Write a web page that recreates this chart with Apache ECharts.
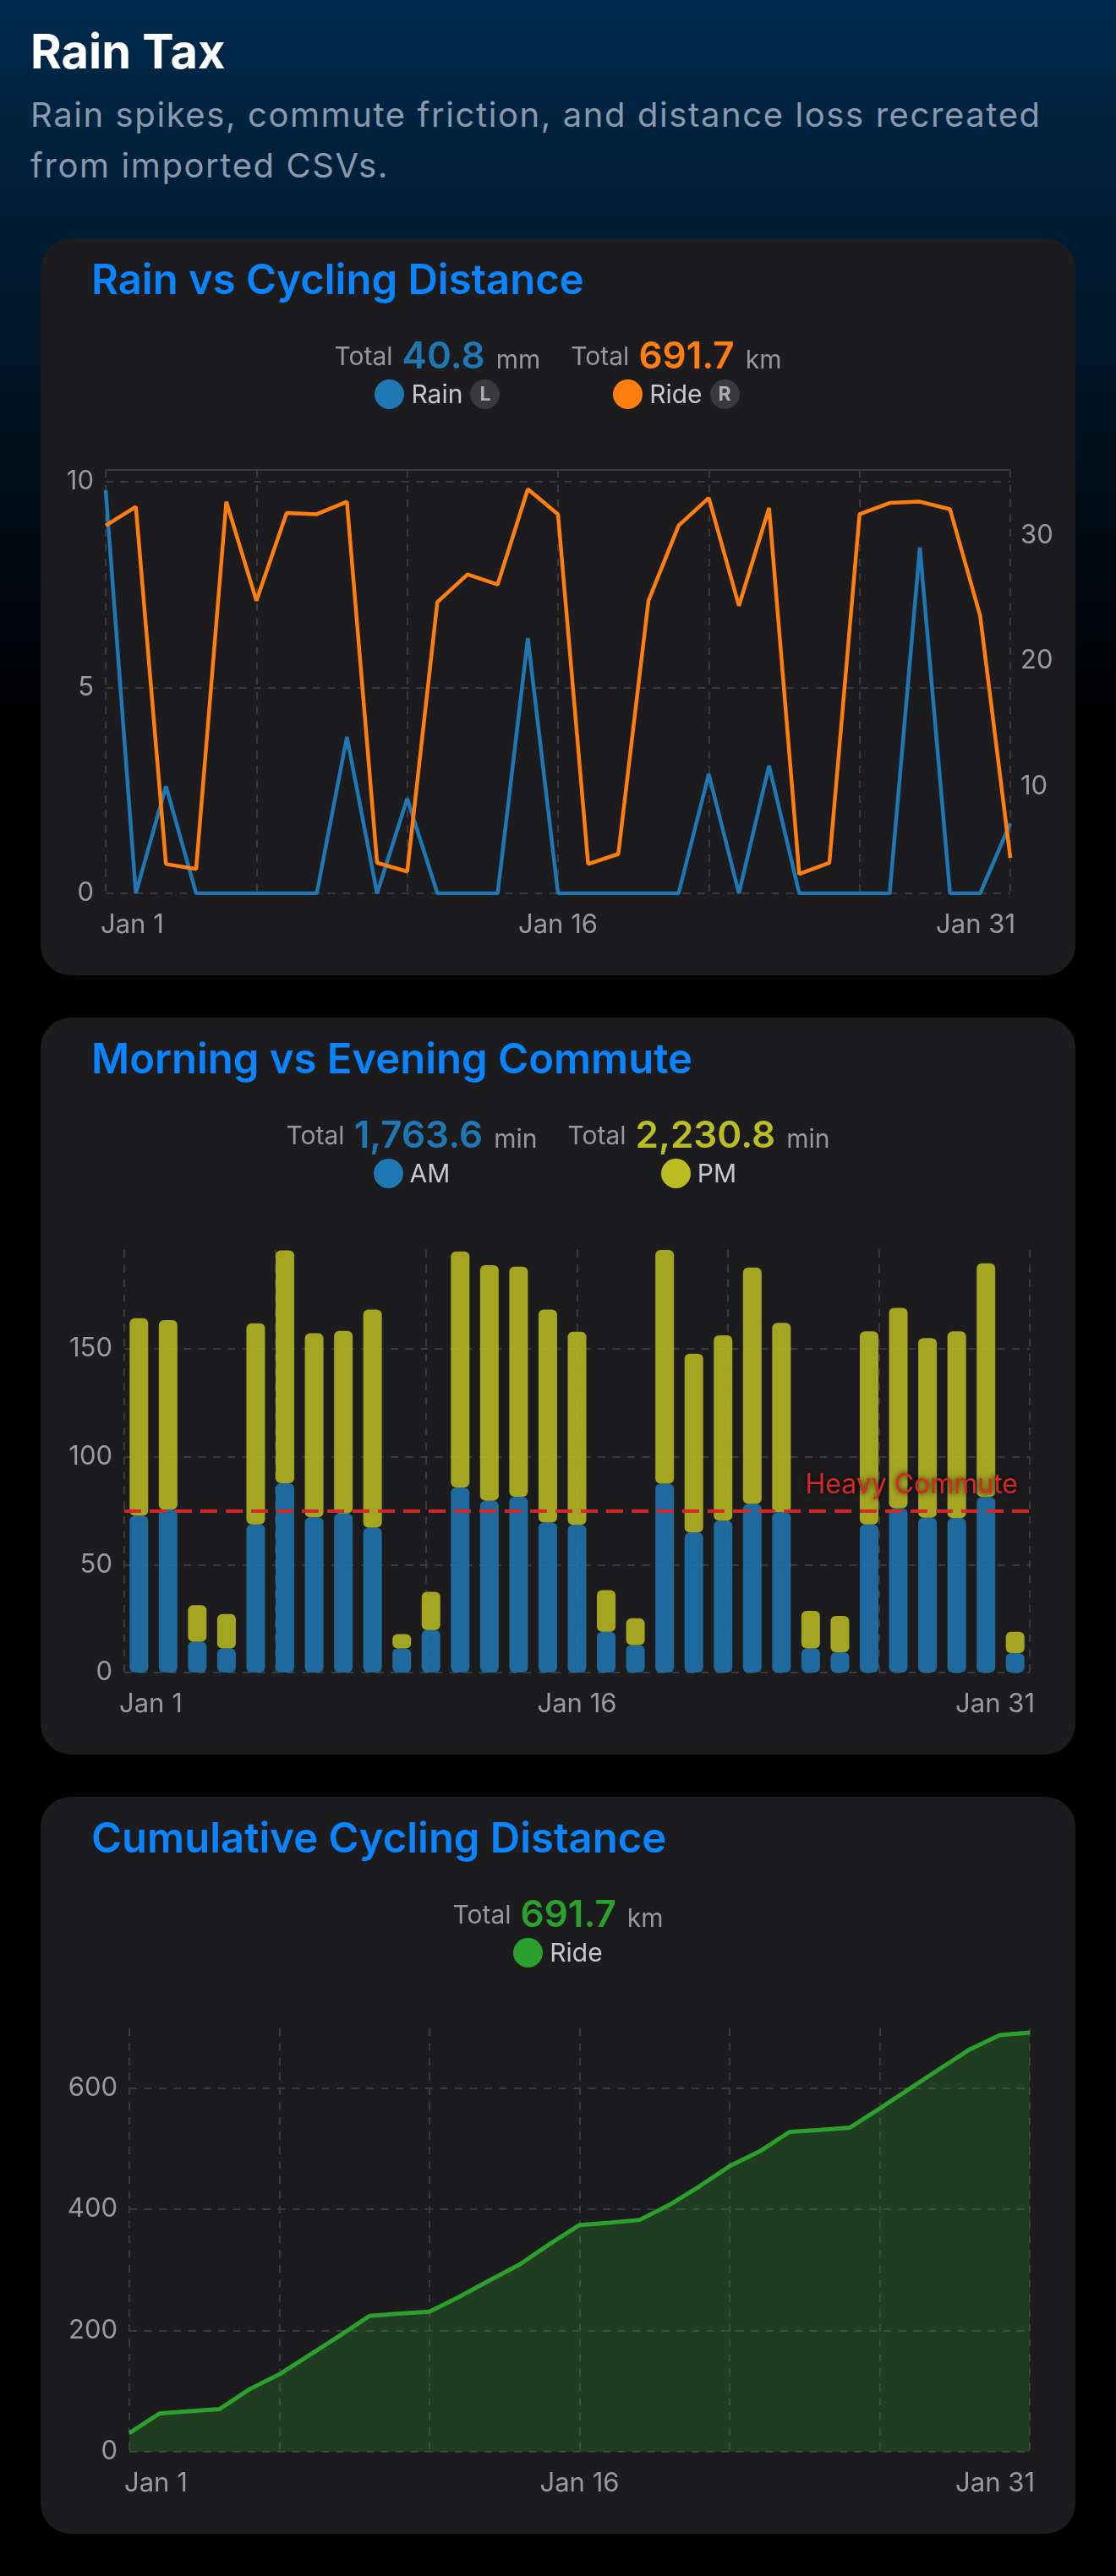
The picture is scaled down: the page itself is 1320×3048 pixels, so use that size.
<!DOCTYPE html>
<html>
<head>
<meta charset="utf-8">
<script src="https://cdn.jsdelivr.net/npm/echarts@6/dist/echarts.min.js"></script>
<style>
html,body{margin:0;padding:0;width:1320px;height:3048px;overflow:hidden;background:#000;}
body{background:linear-gradient(180deg,#002a4c 0px,#000 850px) no-repeat,#000;font-family:Inter,'Noto Sans',sans-serif;position:relative;}
.h1{position:absolute;left:36px;top:33px;margin:0;font-size:56px;line-height:56px;font-weight:700;color:#fff;white-space:nowrap;}
.sub{position:absolute;left:36px;top:106px;margin:0;font-size:40px;line-height:60px;letter-spacing:1.6px;color:#8a99ad;white-space:nowrap;}
.card{position:absolute;left:48px;width:1224px;height:872px;background:#1c1c1e;border-radius:36px;overflow:hidden;}
.chart{position:absolute;left:0;top:0;width:1224px;height:872px;}
.ctitle{position:absolute;left:60px;top:24px;font-size:49px;line-height:50px;font-weight:600;color:#0a84ff;white-space:nowrap;}
.legend{position:absolute;left:0;right:0;top:110px;display:flex;justify-content:center;gap:36px;pointer-events:none;}
.grp{display:flex;flex-direction:column;align-items:center;flex-shrink:0;}
.r1{font-size:44px;line-height:56px;height:56px;white-space:nowrap;}
.tot{font-size:30px;line-height:30px;color:#98989d;position:relative;top:-4px;margin-right:11px;}
.val{font-size:44px;line-height:44px;font-weight:600;}
.unit{font-size:30px;line-height:30px;color:#98989d;margin-left:13px;}
.r2{display:flex;align-items:center;height:36px;}
.dot{flex:0 0 35px;width:35px;height:35px;border-radius:50%;margin-right:8px;}
.nm{font-size:30px;line-height:36px;color:#c7c7cc;}
.badge{flex:0 0 35px;width:35px;height:35px;border-radius:50%;background:#3a3a3c;color:#aeaeb2;font-size:23px;font-weight:700;display:flex;align-items:center;justify-content:center;margin-left:9px;}
</style>
</head>
<body>
<div class="h1">Rain Tax</div>
<div class="sub">Rain spikes, commute friction, and distance loss recreated<br>from imported CSVs.</div>

<div class="card" style="top:282px">
  <div class="chart" id="c1"></div>
  <div class="ctitle">Rain vs Cycling Distance</div>
  <div class="legend">
    <div class="grp">
      <div class="r1"><span class="tot">Total</span><span class="val" id="t-rain" style="color:#1f77b4"></span><span class="unit">mm</span></div>
      <div class="r2"><span class="dot" style="background:#1f77b4"></span><span class="nm">Rain</span><span class="badge">L</span></div>
    </div>
    <div class="grp">
      <div class="r1"><span class="tot">Total</span><span class="val" id="t-ride" style="color:#ff7f0e"></span><span class="unit">km</span></div>
      <div class="r2"><span class="dot" style="background:#ff7f0e"></span><span class="nm">Ride</span><span class="badge">R</span></div>
    </div>
  </div>
</div>

<div class="card" style="top:1204px">
  <div class="chart" id="c2"></div>
  <div class="ctitle">Morning vs Evening Commute</div>
  <div class="legend">
    <div class="grp">
      <div class="r1"><span class="tot">Total</span><span class="val" id="t-am" style="color:#1f77b4"></span><span class="unit">min</span></div>
      <div class="r2"><span class="dot" style="background:#1f77b4"></span><span class="nm">AM</span></div>
    </div>
    <div class="grp">
      <div class="r1"><span class="tot">Total</span><span class="val" id="t-pm" style="color:#bcbd22"></span><span class="unit">min</span></div>
      <div class="r2"><span class="dot" style="background:#bcbd22"></span><span class="nm">PM</span></div>
    </div>
  </div>
</div>

<div class="card" style="top:2126px">
  <div class="chart" id="c3"></div>
  <div class="ctitle">Cumulative Cycling Distance</div>
  <div class="legend">
    <div class="grp">
      <div class="r1"><span class="tot">Total</span><span class="val" id="t-cum" style="color:#2ca02c"></span><span class="unit">km</span></div>
      <div class="r2"><span class="dot" style="background:#2ca02c"></span><span class="nm">Ride</span></div>
    </div>
  </div>
</div>

<script>
// ---------- data ----------
const days = ['Jan 1','Jan 2','Jan 3','Jan 4','Jan 5','Jan 6','Jan 7','Jan 8','Jan 9','Jan 10',
  'Jan 11','Jan 12','Jan 13','Jan 14','Jan 15','Jan 16','Jan 17','Jan 18','Jan 19','Jan 20',
  'Jan 21','Jan 22','Jan 23','Jan 24','Jan 25','Jan 26','Jan 27','Jan 28','Jan 29','Jan 30','Jan 31'];
const xTickLabels = ['Jan 1', 'Jan 16', 'Jan 31'];

const rainMm = [9.8, 0, 2.6, 0, 0, 0, 0, 0, 3.8, 0, 2.3, 0, 0, 0, 6.2, 0,
  0, 0, 0, 0, 2.9, 0, 3.1, 0, 0, 0, 0, 8.4, 0, 0, 1.7];
const rideKm = [30.8, 32.3, 3.8, 3.4, 32.7, 24.8, 31.8, 31.7, 32.7, 3.9, 3.2, 24.7, 26.9, 26.1, 33.7, 31.7,
  3.8, 4.6, 24.8, 30.8, 33.0, 24.4, 32.2, 3.0, 3.9, 31.7, 32.6, 32.7, 32.1, 23.6, 4.3];
const amMin = [72.6, 75.4, 14.3, 11.2, 68.6, 87.7, 71.9, 73.7, 67.1, 11.2, 19.7, 85.7, 79.6, 81.4, 69.5, 68.4,
  18.9, 12.7, 87.5, 64.9, 70.4, 78.1, 74.3, 11.2, 9.4, 68.6, 76.1, 71.7, 71.5, 81.3, 9.0];
const pmMin = [91.5, 87.8, 16.9, 15.9, 93.1, 107.8, 85.2, 84.5, 101.0, 6.6, 17.7, 109.3, 109.1, 106.6, 98.6, 89.4,
  19.3, 12.4, 108.2, 82.8, 85.8, 109.5, 87.6, 17.4, 16.8, 89.4, 92.8, 83.2, 86.5, 108.2, 9.9];
const cumulativeKm = [30.8, 63.1, 66.9, 70.3, 103.0, 127.8, 159.6, 191.3, 224.0, 227.9, 231.1, 255.8, 282.7, 308.8, 342.5, 374.2,
  378.0, 382.6, 407.4, 438.2, 471.2, 495.6, 527.8, 530.8, 534.7, 566.4, 599.0, 631.7, 663.8, 687.4, 691.7];
const heavyCommuteMin = 75;

// ---------- helpers ----------
const sum = a => a.reduce((s, v) => s + v, 0);
const fmt = v => v.toLocaleString('en-US', {minimumFractionDigits: 1, maximumFractionDigits: 1});
document.getElementById('t-rain').textContent = fmt(sum(rainMm));
document.getElementById('t-ride').textContent = fmt(sum(rideKm));
document.getElementById('t-am').textContent = fmt(sum(amMin));
document.getElementById('t-pm').textContent = fmt(sum(pmMin));
document.getElementById('t-cum').textContent = fmt(cumulativeKm[cumulativeKm.length - 1]);

const FONT = 'Inter';
const GRID = '#3a3a3c';
const LABEL = '#9a9a9f';
const DASH = [9, 8.5];
const axisText = {color: LABEL, fontSize: 31, fontFamily: FONT};
const xLabelExtra = {margin: 22, alignMinLabel: 'left', alignMaxLabel: 'right', padding: [0, -6, 0, -6]};
const splitDashed = {lineStyle: {color: GRID, width: 2, type: DASH}};

function catX(extra) {
  return Object.assign({
    type: 'category', data: days, boundaryGap: false,
    axisLine: {show: false}, axisTick: {show: false},
    axisLabel: Object.assign({interval: 14}, xLabelExtra, axisText),
    splitLine: Object.assign({show: true, interval: 4}, splitDashed)
  }, extra || {});
}

// ---------- chart 1 ----------
const rainMax = Math.max(...rainMm);
const rideMax = Math.max(...rideKm), rideMin = Math.min(...rideKm);
const ridePad = (rideMax - rideMin) * 0.05;
const c1 = echarts.init(document.getElementById('c1'), null, {renderer: 'canvas'});
c1.setOption({
  animation: false,
  textStyle: {fontFamily: FONT},
  grid: {left: 77, right: 77, top: 274, bottom: 97, outerBoundsMode: 'none'},
  xAxis: [
    catX(),
    {type: 'category', data: days, boundaryGap: false, position: 'top',
     axisLine: {show: true, lineStyle: {color: GRID, width: 2}}, axisTick: {show: false},
     axisLabel: {show: false}, splitLine: {show: false}}
  ],
  yAxis: [
    {type: 'value', position: 'left', min: 0, max: rainMax * 1.05, interval: 5,
     axisLine: {show: false}, axisTick: {show: false},
     axisLabel: Object.assign({margin: 14, showMaxLabel: false}, axisText),
     splitLine: Object.assign({show: true, showMaxLine: false}, splitDashed)},
    {type: 'value', position: 'right', min: rideMin - ridePad, max: rideMax + ridePad, splitNumber: 3,
     axisLine: {show: false}, axisTick: {show: false},
     axisLabel: Object.assign({margin: 12, showMinLabel: false, showMaxLabel: false}, axisText),
     splitLine: {show: false}}
  ],
  series: [
    {name: 'Rain', type: 'line', data: rainMm, xAxisIndex: 0, yAxisIndex: 0, showSymbol: false,
     lineStyle: {color: '#1f77b4', width: 4.5}, itemStyle: {color: '#1f77b4'}},
    {name: 'Ride', type: 'line', data: rideKm, xAxisIndex: 0, yAxisIndex: 1, showSymbol: false,
     lineStyle: {color: '#ff7f0e', width: 4.5}, itemStyle: {color: '#ff7f0e'}}
  ]
});

// ---------- chart 2 ----------
const commuteMax = Math.max(...amMin.map((v, i) => v + pmMin[i]));
const c2 = echarts.init(document.getElementById('c2'), null, {renderer: 'canvas'});
c2.setOption({
  animation: false,
  textStyle: {fontFamily: FONT},
  grid: {left: 99, right: 54, top: 275, bottom: 97, outerBoundsMode: 'none'},
  xAxis: [
    {type: 'category', data: days, boundaryGap: true,
     axisLine: {show: false}, axisTick: {show: false}, axisLabel: {show: false}, splitLine: {show: false}},
    {type: 'value', position: 'bottom', min: 0, max: 6, interval: 1,
     axisLine: {show: false}, axisTick: {show: false},
     axisLabel: Object.assign({
       formatter: v => (v === 0 ? xTickLabels[0] : v === 3 ? xTickLabels[1] : v === 6 ? xTickLabels[2] : '')},
       xLabelExtra, axisText),
     splitLine: Object.assign({show: true}, splitDashed)}
  ],
  yAxis: {type: 'value', min: 0, max: commuteMax, interval: 50,
    axisLine: {show: false}, axisTick: {show: false},
    axisLabel: Object.assign({margin: 14, showMaxLabel: false}, axisText),
    splitLine: Object.assign({show: true, showMaxLine: false}, splitDashed)},
  series: [
    {name: 'AM', type: 'bar', stack: 'commute', xAxisIndex: 0, data: amMin, barWidth: 22,
     itemStyle: {color: '#1f77b4', opacity: 0.85, borderRadius: 6},
     markLine: {silent: true, symbol: ['none', 'none'], data: [{yAxis: heavyCommuteMin}],
       lineStyle: {color: '#d62728', width: 4, type: [20, 10], opacity: 1},
       label: {show: true, position: 'insideEndTop', formatter: 'Heavy Commute', color: '#d62728',
         fontSize: 32, fontFamily: FONT, distance: [14, 14], textBorderWidth: 0,
         textShadowColor: 'rgba(0,0,0,0.85)', textShadowBlur: 6}}},
    {name: 'PM', type: 'bar', stack: 'commute', xAxisIndex: 0, data: pmMin, barWidth: 22,
     itemStyle: {color: '#bcbd22', opacity: 0.85, borderRadius: 6}}
  ]
});

// ---------- chart 3 ----------
const cumMax = Math.max(...cumulativeKm);
const c3 = echarts.init(document.getElementById('c3'), null, {renderer: 'canvas'});
c3.setOption({
  animation: false,
  textStyle: {fontFamily: FONT},
  grid: {left: 105, right: 54, top: 274, bottom: 97, outerBoundsMode: 'none'},
  xAxis: catX(),
  yAxis: {type: 'value', min: 0, max: cumMax * 1.01, interval: 200,
    axisLine: {show: false}, axisTick: {show: false},
    axisLabel: Object.assign({margin: 14, showMaxLabel: false}, axisText),
    splitLine: Object.assign({show: true, showMaxLine: false}, splitDashed)},
  series: [
    {name: 'Ride', type: 'line', data: cumulativeKm, showSymbol: false,
     lineStyle: {color: '#2ca02c', width: 5}, itemStyle: {color: '#2ca02c'},
     areaStyle: {color: '#2ca02c', opacity: 0.25}}
  ]
});
</script>
</body>
</html>
